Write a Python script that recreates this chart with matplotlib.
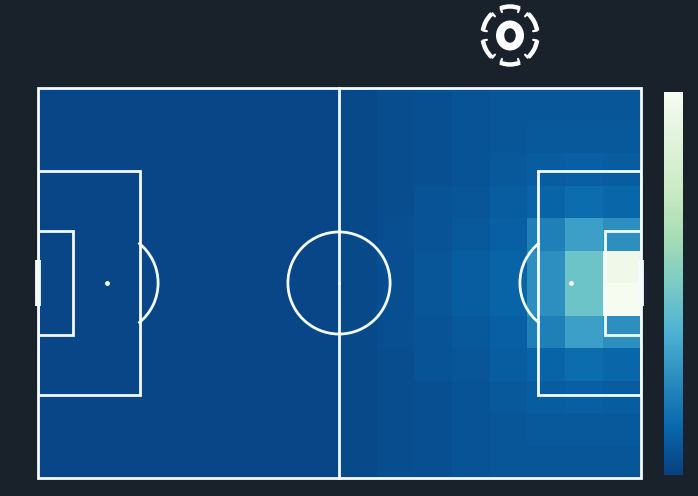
import numpy as np
import matplotlib
matplotlib.use("Agg")
import matplotlib.pyplot as plt
from matplotlib.patches import Rectangle, Arc, Ellipse, Circle

# wymiary boiska i siatka heatmapy
pitch_length = 105
pitch_width = 68
n_cols = 16
n_rows = 12

# wartości heatmapy (znormalizowane), wiersze od góry boiska do dołu
row_00 = [0.02, 0.02, 0.02, 0.02, 0.02, 0.02, 0.02, 0.02, 0.03, 0.04, 0.05, 0.06, 0.07, 0.07, 0.07, 0.07]
row_01 = [0.02, 0.02, 0.02, 0.02, 0.02, 0.02, 0.02, 0.02, 0.03, 0.04, 0.05, 0.06, 0.07, 0.08, 0.08, 0.08]
row_02 = [0.02, 0.02, 0.02, 0.02, 0.02, 0.02, 0.02, 0.02, 0.03, 0.04, 0.05, 0.06, 0.08, 0.09, 0.10, 0.09]
row_03 = [0.02, 0.02, 0.02, 0.02, 0.02, 0.02, 0.02, 0.02, 0.03, 0.04, 0.06, 0.07, 0.09, 0.11, 0.14, 0.12]
row_04 = [0.02, 0.02, 0.02, 0.02, 0.02, 0.02, 0.02, 0.02, 0.03, 0.05, 0.06, 0.08, 0.10, 0.21, 0.31, 0.26]
row_05 = [0.02, 0.02, 0.02, 0.02, 0.02, 0.02, 0.02, 0.02, 0.03, 0.05, 0.07, 0.09, 0.11, 0.26, 0.46, 0.96]
row_06 = [0.02, 0.02, 0.02, 0.02, 0.02, 0.02, 0.02, 0.02, 0.03, 0.05, 0.07, 0.09, 0.11, 0.26, 0.46, 1.00]
row_07 = [0.02, 0.02, 0.02, 0.02, 0.02, 0.02, 0.02, 0.02, 0.03, 0.05, 0.06, 0.08, 0.10, 0.21, 0.31, 0.26]
row_08 = [0.02, 0.02, 0.02, 0.02, 0.02, 0.02, 0.02, 0.02, 0.03, 0.04, 0.06, 0.07, 0.09, 0.11, 0.14, 0.12]
row_09 = [0.02, 0.02, 0.02, 0.02, 0.02, 0.02, 0.02, 0.02, 0.03, 0.04, 0.05, 0.06, 0.08, 0.09, 0.10, 0.09]
row_10 = [0.02, 0.02, 0.02, 0.02, 0.02, 0.02, 0.02, 0.02, 0.03, 0.04, 0.05, 0.06, 0.07, 0.08, 0.08, 0.08]
row_11 = [0.02, 0.02, 0.02, 0.02, 0.02, 0.02, 0.02, 0.02, 0.03, 0.04, 0.05, 0.06, 0.07, 0.07, 0.07, 0.07]

BG = "#19212b"
LINE = "#f4fbff"


def drawPitch(ax):
    lw = 2.0
    L, W = pitch_length, pitch_width
    # linie zewnętrzne i środkowa
    ax.add_patch(Rectangle((0, 0), L, W, fill=False, ec=LINE, lw=lw, zorder=3, clip_on=False))
    ax.plot([L / 2, L / 2], [0, W], color=LINE, lw=lw, zorder=3, clip_on=False)
    ax.add_patch(Circle((L / 2, W / 2), 8.9, fill=False, ec=LINE, lw=lw, zorder=3))
    ax.plot(L / 2, W / 2, "o", color=LINE, ms=1.2, zorder=3)
    # pola karne, bramkowe, punkty, łuki, bramki
    box_d, box_h = 17.9, 19.55
    six_d, six_h = 6.2, 9.0
    spot = 12.1
    for side in (0, 1):
        x0 = 0 if side == 0 else L - box_d
        ax.add_patch(Rectangle((x0, W / 2 - box_h), box_d, 2 * box_h, fill=False, ec=LINE, lw=lw, zorder=3))
        x0 = 0 if side == 0 else L - six_d
        ax.add_patch(Rectangle((x0, W / 2 - six_h), six_d, 2 * six_h, fill=False, ec=LINE, lw=lw, zorder=3))
        sx = spot if side == 0 else L - spot
        ax.plot(sx, W / 2, "o", color=LINE, ms=2.5, zorder=3)
        if side == 0:
            ax.add_patch(Arc((sx, W / 2), 17.8, 17.8, theta1=-52, theta2=52, ec=LINE, lw=lw, zorder=3))
        else:
            ax.add_patch(Arc((sx, W / 2), 17.8, 17.8, theta1=128, theta2=232, ec=LINE, lw=lw, zorder=3))
        gx = 0 if side == 0 else L
        ax.plot([gx, gx], [W / 2 - 4.05, W / 2 + 4.05], color=LINE, lw=4.2, zorder=4,
                solid_capstyle="butt", clip_on=False)


def drawLogo(fig):
    # logo ligi (w pikselach obrazka)
    lax = fig.add_axes([0, 0, 1, 1], zorder=5)
    lax.set_xlim(0, 698)
    lax.set_ylim(496, 0)
    lax.axis("off")
    cx, cy = 510, 35.5
    lax.add_patch(Ellipse((cx, cy), 28, 30, fc="white", ec="none"))
    lax.add_patch(Ellipse((cx, cy), 11.5, 14.5, fc=BG, ec="none"))
    rx, ry = 27.5, 29.0
    for ang in (90, 30, -30, -90, -150, 150):
        lax.add_patch(Arc((cx, cy), 2 * rx, 2 * ry, theta1=ang - 20, theta2=ang + 20,
                          ec="white", lw=3.2))
        for end in (ang - 20, ang + 20):
            t = np.radians(end)
            px, py = cx + rx * np.cos(t), cy - ry * np.sin(t)
            qx, qy = cx + (rx - 4) * np.cos(t), cy - (ry - 4) * np.sin(t)
            lax.plot([px, qx], [py, qy], color="white", lw=1.6, solid_capstyle="round")


def createPlot():
    fig = plt.figure(figsize=(6.98, 4.96), dpi=100, facecolor=BG)

    ax = fig.add_axes([37.5 / 698, 1 - 478 / 496, 603 / 698, 390 / 496])
    ax.set_facecolor(BG)
    ax.set_xlim(0, pitch_length)
    ax.set_ylim(0, pitch_width)
    ax.axis("off")

    grid = np.array([row_00, row_01, row_02, row_03, row_04, row_05,
                     row_06, row_07, row_08, row_09, row_10, row_11])
    xedges = np.linspace(0, pitch_length, n_cols + 1)
    yedges = np.linspace(0, pitch_width, n_rows + 1)
    # wiersze są od góry, więc odwracamy do osi y rosnącej w górę
    mesh = ax.pcolormesh(xedges, yedges, grid[::-1], cmap="GnBu_r", vmin=0, vmax=1,
                         shading="flat", zorder=1)

    drawPitch(ax)

    cax = fig.add_axes([664 / 698, 1 - 475 / 496, 19.3 / 698, 383.3 / 496])
    cb = fig.colorbar(mesh, cax=cax)
    cb.set_ticks([])
    cb.outline.set_visible(False)

    drawLogo(fig)

    fig.savefig("out.png", dpi=100, facecolor=BG)


if __name__ == '__main__':
    createPlot()
